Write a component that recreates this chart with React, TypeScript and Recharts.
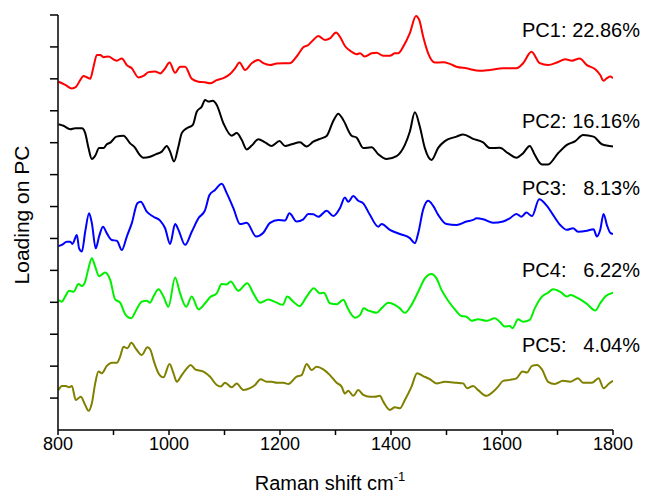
import React from 'react';
import { LineChart, Line, XAxis, YAxis, Customized } from 'recharts';

// [Raman shift, loading (offset)]
const pc1: [number, number][] = [
  [801, 10.91], [813, 10.81], [825, 10.7], [832, 10.74], [840, 10.96], [846, 11.09], [852, 11.05], [858, 11.0],
  [864, 11.38], [870, 11.75], [876, 11.75], [882, 11.68], [891, 11.7], [900, 11.61], [906, 11.57], [915, 11.64],
  [924, 11.43], [933, 11.33], [945, 11.04], [954, 11.09], [963, 11.21], [975, 11.23], [984, 11.17], [993, 11.33],
  [1001, 11.51], [1011, 11.19], [1020, 11.38], [1029, 11.38], [1041, 11.0], [1053, 10.91], [1065, 10.89], [1074, 10.86],
  [1086, 10.96], [1098, 11.02], [1110, 11.15], [1119, 11.33], [1127, 11.51], [1137, 11.28], [1149, 11.49], [1161, 11.59],
  [1170, 11.49], [1182, 11.43], [1194, 11.48], [1206, 11.49], [1218, 11.49], [1230, 11.7], [1242, 11.99], [1251, 12.06],
  [1260, 12.22], [1269, 12.34], [1281, 12.22], [1290, 12.27], [1301, 12.45], [1308, 12.32], [1317, 12.03], [1329, 11.85],
  [1338, 11.77], [1344, 11.8], [1353, 11.7], [1365, 11.8], [1374, 11.82], [1386, 11.72], [1398, 11.72], [1407, 11.8],
  [1413, 11.8], [1422, 12.01], [1434, 12.43], [1445, 12.97], [1451, 12.84], [1458, 12.32], [1467, 11.8], [1479, 11.51],
  [1494, 11.52], [1506, 11.47], [1518, 11.38], [1536, 11.33], [1560, 11.25], [1578, 11.28], [1602, 11.33], [1626, 11.33],
  [1638, 11.49], [1653, 11.85], [1668, 11.49], [1683, 11.43], [1699, 11.51], [1714, 11.61], [1726, 11.57], [1740, 11.64],
  [1753, 11.43], [1768, 11.3], [1777, 11.12], [1783, 10.94], [1789, 11.02], [1795, 11.07], [1800, 11.02],
];

const pc2: [number, number][] = [
  [801, 9.58], [810, 9.53], [822, 9.42], [831, 9.45], [843, 9.45], [849, 9.3], [855, 8.83], [861, 8.49],
  [867, 8.59], [874, 8.83], [882, 8.83], [888, 8.95], [895, 9.01], [905, 9.19], [918, 9.22], [930, 8.98],
  [939, 8.84], [945, 8.67], [954, 8.53], [966, 8.56], [977, 8.64], [987, 8.72], [996, 8.9], [1002, 8.72],
  [1009, 8.41], [1017, 8.88], [1023, 9.3], [1032, 9.45], [1043, 9.56], [1050, 9.97], [1059, 10.13], [1065, 10.34],
  [1071, 10.29], [1079, 10.31], [1086, 10.18], [1098, 9.61], [1113, 9.22], [1122, 9.3], [1131, 9.09], [1140, 8.79],
  [1149, 8.91], [1161, 9.11], [1173, 9.01], [1185, 8.9], [1199, 9.05], [1209, 8.9], [1221, 8.95], [1236, 9.01],
  [1248, 8.88], [1260, 9.03], [1272, 9.12], [1284, 9.21], [1296, 9.68], [1305, 9.91], [1314, 9.71], [1329, 9.22],
  [1338, 9.16], [1350, 8.83], [1365, 8.86], [1377, 8.64], [1392, 8.49], [1410, 8.58], [1425, 8.93], [1434, 9.35],
  [1443, 9.95], [1452, 9.5], [1461, 8.83], [1473, 8.46], [1485, 8.84], [1497, 9.05], [1518, 9.19], [1530, 9.26],
  [1548, 9.12], [1566, 9.01], [1578, 8.83], [1596, 8.84], [1611, 8.67], [1626, 8.53], [1638, 8.67], [1650, 8.9],
  [1659, 8.62], [1672, 8.32], [1683, 8.32], [1701, 8.67], [1717, 8.93], [1732, 9.05], [1746, 9.24], [1765, 9.19],
  [1780, 8.95], [1800, 8.88],
];

const pc3: [number, number][] = [
  [801, 5.76], [807, 5.8], [816, 5.9], [822, 5.9], [826, 5.83], [834, 6.11], [838, 5.69], [843, 5.59],
  [849, 6.21], [856, 6.79], [861, 6.48], [868, 5.69], [874, 6.06], [881, 6.37], [888, 6.16], [897, 5.95],
  [906, 5.93], [915, 5.64], [924, 6.06], [933, 6.48], [943, 7.1], [949, 7.15], [960, 6.84], [972, 6.68],
  [984, 6.56], [993, 6.32], [1002, 5.83], [1011, 6.45], [1017, 6.27], [1029, 5.8], [1041, 6.21], [1053, 6.63],
  [1065, 6.89], [1073, 7.36], [1083, 7.52], [1095, 7.71], [1104, 7.42], [1116, 6.95], [1128, 6.45], [1140, 6.49],
  [1157, 6.06], [1170, 6.18], [1182, 6.49], [1197, 6.58], [1209, 6.56], [1217, 6.79], [1230, 6.53], [1242, 6.6],
  [1251, 6.77], [1260, 6.76], [1269, 6.68], [1284, 6.87], [1296, 6.7], [1308, 6.95], [1317, 7.28], [1323, 7.15],
  [1332, 7.33], [1341, 7.18], [1350, 7.1], [1362, 6.74], [1377, 6.37], [1383, 6.45], [1398, 6.27], [1416, 6.14],
  [1434, 6.01], [1443, 5.85], [1449, 6.16], [1458, 6.91], [1467, 7.18], [1476, 7.02], [1485, 6.74], [1500, 6.45],
  [1518, 6.42], [1536, 6.53], [1548, 6.58], [1554, 6.63], [1566, 6.6], [1584, 6.49], [1602, 6.53], [1614, 6.63],
  [1626, 6.77], [1635, 6.68], [1644, 6.81], [1654, 6.7], [1667, 7.23], [1681, 7.02], [1692, 6.74], [1705, 6.42],
  [1717, 6.27], [1728, 6.32], [1737, 6.21], [1753, 6.24], [1765, 6.29], [1771, 6.06], [1777, 6.27], [1783, 6.77],
  [1789, 6.42], [1795, 6.18], [1800, 6.14],
];

const pc4: [number, number][] = [
  [801, 4.07], [807, 4.02], [813, 4.18], [820, 4.36], [828, 4.33], [837, 4.57], [843, 4.51], [849, 4.65],
  [855, 5.07], [861, 5.38], [867, 5.12], [874, 4.82], [885, 4.93], [894, 4.7], [903, 4.09], [912, 3.99],
  [921, 3.63], [932, 3.5], [941, 3.76], [951, 4.02], [960, 4.05], [966, 3.99], [972, 4.18], [981, 4.41],
  [990, 4.18], [999, 3.86], [1011, 4.78], [1020, 4.28], [1031, 3.86], [1041, 4.18], [1053, 3.78], [1065, 3.97],
  [1074, 4.16], [1086, 4.28], [1095, 4.57], [1104, 4.56], [1111, 4.65], [1125, 4.36], [1141, 4.6], [1152, 4.28],
  [1164, 3.99], [1179, 4.09], [1194, 3.99], [1205, 3.92], [1213, 4.18], [1224, 4.02], [1235, 3.88], [1248, 4.18],
  [1261, 4.44], [1272, 4.28], [1279, 4.3], [1290, 3.97], [1302, 3.94], [1314, 4.08], [1323, 3.78], [1335, 3.52],
  [1344, 3.6], [1351, 3.81], [1359, 3.74], [1365, 3.71], [1374, 3.67], [1383, 3.81], [1395, 3.99], [1407, 3.92],
  [1416, 3.81], [1425, 3.67], [1437, 3.92], [1449, 4.33], [1461, 4.75], [1473, 4.89], [1482, 4.75], [1491, 4.39],
  [1503, 4.05], [1515, 3.78], [1527, 3.57], [1536, 3.55], [1545, 3.42], [1557, 3.47], [1572, 3.42], [1587, 3.5],
  [1596, 3.39], [1605, 3.24], [1614, 3.26], [1619, 3.19], [1629, 3.47], [1638, 3.39], [1650, 3.45], [1659, 3.81],
  [1672, 4.18], [1683, 4.3], [1692, 4.41], [1705, 4.33], [1717, 4.18], [1723, 4.23], [1737, 4.13], [1753, 3.95],
  [1768, 3.74], [1777, 3.97], [1786, 4.18], [1800, 4.3],
];

const pc5: [number, number][] = [
  [801, 1.25], [807, 1.38], [814, 1.38], [820, 1.34], [825, 1.38], [832, 0.94], [841, 1.04], [849, 0.78],
  [855, 0.6], [861, 0.84], [867, 1.46], [873, 1.83], [879, 1.78], [888, 2.01], [897, 2.11], [906, 2.11],
  [912, 2.3], [918, 2.61], [925, 2.56], [932, 2.73], [941, 2.53], [951, 2.35], [961, 2.59], [966, 2.53],
  [973, 2.14], [981, 1.78], [990, 1.65], [1001, 2.07], [1008, 1.78], [1014, 1.51], [1023, 1.72], [1032, 1.93],
  [1039, 2.04], [1047, 1.9], [1062, 1.83], [1074, 1.67], [1086, 1.41], [1093, 1.36], [1101, 1.48], [1113, 1.34],
  [1122, 1.46], [1134, 1.25], [1146, 1.31], [1155, 1.41], [1165, 1.59], [1176, 1.51], [1185, 1.51], [1194, 1.48],
  [1206, 1.48], [1215, 1.44], [1230, 1.67], [1239, 1.72], [1248, 2.07], [1257, 1.88], [1266, 1.98], [1278, 1.9],
  [1290, 1.72], [1302, 1.48], [1311, 1.36], [1317, 1.14], [1323, 1.23], [1332, 1.07], [1341, 1.25], [1350, 1.1],
  [1362, 1.04], [1371, 1.04], [1380, 1.07], [1386, 0.89], [1398, 0.63], [1407, 0.71], [1416, 0.68], [1425, 0.94],
  [1437, 1.36], [1447, 1.78], [1458, 1.69], [1470, 1.59], [1482, 1.46], [1497, 1.51], [1518, 1.48], [1530, 1.46],
  [1537, 1.31], [1548, 1.38], [1557, 1.25], [1572, 1.07], [1584, 1.2], [1593, 1.36], [1602, 1.54], [1614, 1.57],
  [1626, 1.62], [1637, 1.83], [1645, 1.8], [1654, 2.01], [1663, 2.04], [1672, 1.9], [1683, 1.51], [1695, 1.44],
  [1710, 1.54], [1723, 1.51], [1737, 1.62], [1746, 1.48], [1762, 1.48], [1774, 1.62], [1783, 1.31], [1792, 1.44],
  [1800, 1.54],
];

const xTicks = [800, 900, 1000, 1100, 1200, 1300, 1400, 1500, 1600, 1700, 1800];
const yTicks = [1, 2, 3, 4, 5, 6, 7, 8, 9, 10, 11, 12, 13];

const pcNames = ['PC1:', 'PC2:', 'PC3:', 'PC4:', 'PC5:'];
const pcVariance = ['22.86%', '16.16%', '8.13%', '6.22%', '4.04%'];

const FONT = '"Liberation Sans", Arial, Helvetica, sans-serif';

const series = [
  { name: 'PC1', color: '#ff0000', points: pc1 },
  { name: 'PC2', color: '#000000', points: pc2 },
  { name: 'PC3', color: '#0000ff', points: pc3 },
  { name: 'PC4', color: '#00f000', points: pc4 },
  { name: 'PC5', color: '#808000', points: pc5 },
];

// label baselines (px) next to each curve
const labelY = [37, 128, 195, 277, 352];

function Annotations() {
  return (
    <g fontFamily={FONT} fill="#000">
      {pcNames.map((n, i) => (
        <g key={n}>
          <text x={522} y={labelY[i]} fontSize={20} textAnchor="start">
            {n}
          </text>
          <text x={640} y={labelY[i]} fontSize={20} textAnchor="end">
            {pcVariance[i]}
          </text>
        </g>
      ))}
      <text
        x={0}
        y={0}
        fontSize={21}
        textAnchor="middle"
        transform="translate(29 215) rotate(-90)"
      >
        Loading on PC
      </text>
      <text x={330} y={490} fontSize={20} textAnchor="middle">
        Raman shift cm
        <tspan fontSize={13} dy={-9}>
          -1
        </tspan>
      </text>
    </g>
  );
}

export default function App() {
  return (
    <div style={{ position: 'absolute', left: 0, top: 0, width: 647, height: 494, background: '#fff' }}>
      <LineChart width={647} height={494} margin={{ top: 15, right: 34, bottom: 0, left: 0 }}>
        <XAxis
          type="number"
          dataKey="x"
          domain={[800, 1800]}
          ticks={xTicks}
          interval={0}
          allowDataOverflow
          height={64}
          stroke="#000"
          strokeWidth={1.5}
          tickSize={5}
          tickFormatter={(v: number) => (v % 200 === 0 ? String(v) : '')}
          tick={{ fill: '#000', fontSize: 18, fontFamily: FONT }}
        />
        <YAxis
          type="number"
          domain={[0, 13]}
          ticks={yTicks}
          interval={0}
          width={58}
          stroke="#000"
          strokeWidth={1.5}
          tickSize={8}
          tickFormatter={() => ''}
        />
        {series.map((s) => (
          <Line
            key={s.name}
            data={s.points.map(([x, y]) => ({ x, y }))}
            dataKey="y"
            type="monotone"
            stroke={s.color}
            strokeWidth={2}
            dot={false}
            isAnimationActive={false}
          />
        ))}
        <Customized component={Annotations} />
      </LineChart>
    </div>
  );
}
